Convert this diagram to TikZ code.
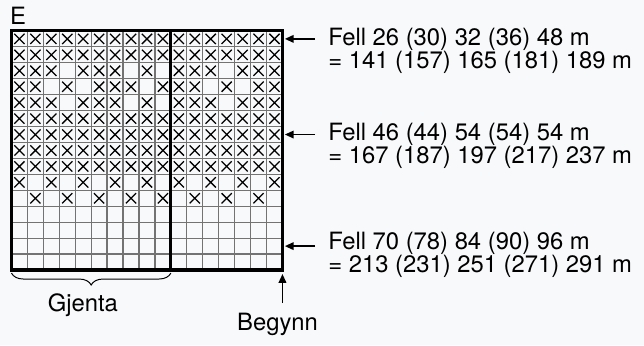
\documentclass[tikz,border=0pt]{standalone}
\usepackage{fontspec}
\setmainfont{TeX Gyre Heros}
\usetikzlibrary{arrows.meta,decorations.pathreplacing}
\definecolor{paper}{RGB}{248,249,251}

\begin{document}
\begin{tikzpicture}[
  x=4mm, y=4mm,
  >={Triangle[length=2.2mm, width=1.9mm]},
  gridline/.style={draw=black!55, line width=0.9pt},
  border/.style={draw=black, line width=2.2pt},
  pointer/.style={->, line width=1.1pt},
  txt/.style={font=\fontsize{17}{16.4}\selectfont, inner sep=0pt, align=left},
  xcell/.pic={\draw[line width=0.9pt] (-.32,-.32) -- (.32,.32) (-.32,.32) -- (.32,-.32);},
]
\path[use as bounding box, fill=paper] (-0.72,-4.705) rectangle (39.68,16.94);

% ---- chart: 17 stitches by 15 rows -------------------------------------------
\draw[gridline, step={(1,1)}] (0,0) grid (17,15);
% marked stitches, row by row from the top
\foreach \r/\cols in {1/{1,...,17}, 2/{1,...,17},
    3/{1,2,3,5,6,7,9,11,12,13,15,16,17},
    4/{1,2,4,6,7,8,10,11,12,14,16,17},
    5/{1,2,3,5,6,7,9,11,12,13,15,16,17},
    6/{1,...,17}, 7/{1,...,17}, 8/{1,...,17}, 9/{1,...,17},
    10/{1,3,...,17}, 11/{2,4,...,16}}
  \foreach \c in \cols
    \pic at (\c-0.5,15.5-\r) {xcell};
\draw[border] (0,0) rectangle (17,15);
\draw[border] (10,0) -- (10,15);

\node[txt, anchor=base west] (edge) at (-0.1,15.43) {E};

% ---- row markers on the right ---------------------------------------------------
% base of a two-line node is the second line
\foreach \i/\y/\b/\top/\bot in {
    1/14.5/12.67/{Fell 26 (30) 32 (36) 48 m}/{= 141 (157) 165 (181) 189 m},
    2/8.5/6.71/{Fell 46 (44) 54 (54) 54 m}/{= 167 (187) 197 (217) 237 m},
    3/1.5/-0.15/{Fell 70 (78) 84 (90) 96 m}/{= 213 (231) 251 (271) 291 m}} {
  \coordinate (tip\i) at (17.15,\y);
  \coordinate (tail\i) at (19.05,\y);
  \draw[pointer] (tail\i) -- (tip\i);
  \node[txt, anchor=base west] (fell\i) at (19.86,\b) {\top\\\bot};
}

% ---- repeat and start ------------------------------------------------------------
\draw[decorate, decoration={brace, mirror, amplitude=3mm}, line width=0.7pt]
  (0,-0.19) -- (10,-0.19);
\node[txt, anchor=base] (rep) at (4.48,-2.63) {Gjenta};

\coordinate (go) at (17,-0.25);
\coordinate (gotail) at (17,-2.07);
\draw[pointer] (gotail) -- (go);
\node[txt, anchor=base] (start) at (16.69,-3.81) {Begynn};
\end{tikzpicture}
\end{document}
